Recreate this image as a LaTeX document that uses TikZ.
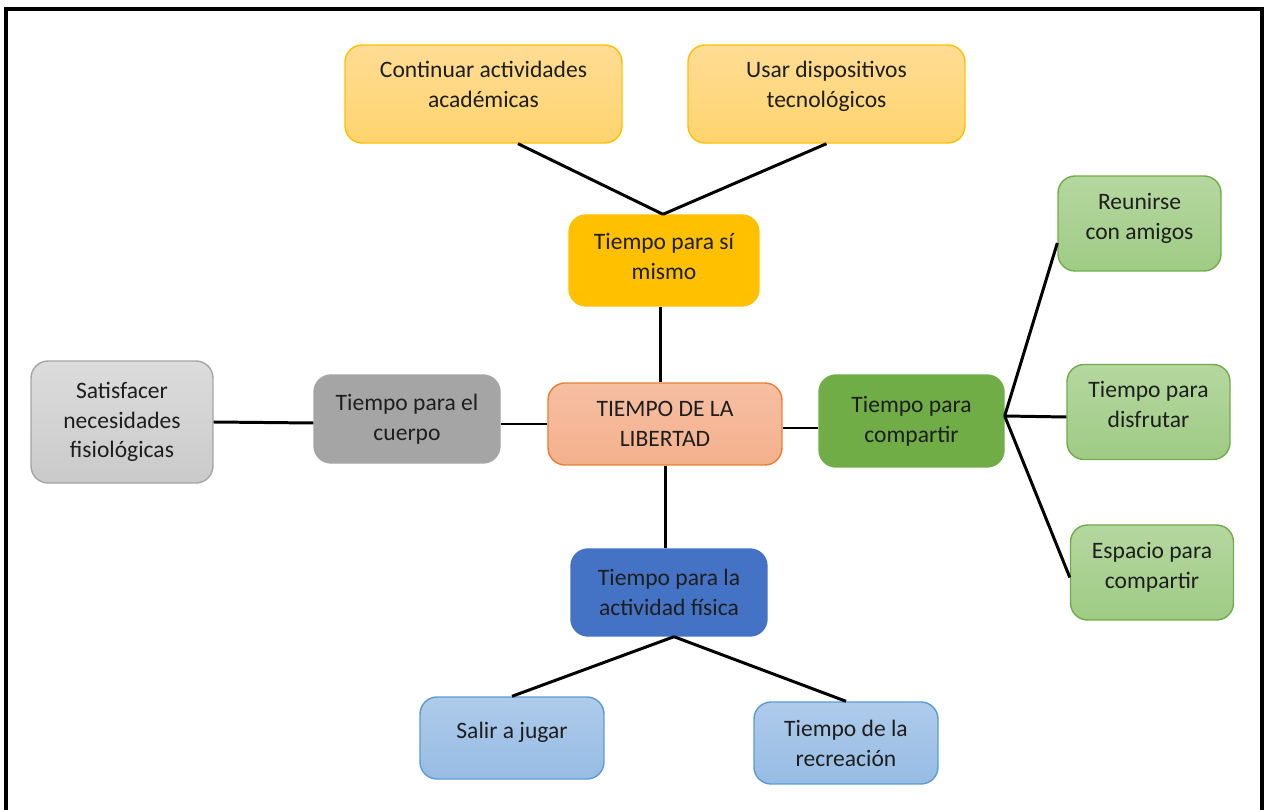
\documentclass[tikz,border=0pt]{standalone}
\usepackage{fontspec}
\setmainfont{Carlito}
\usepackage{tikz}

\definecolor{gold}{HTML}{FFC000}
\definecolor{goldlt}{HTML}{FFDC94}
\definecolor{goldmd}{HTML}{FFD46E}
\definecolor{salmon}{HTML}{F4B08C}
\definecolor{salmonlt}{HTML}{F6BFA3}
\definecolor{orangeb}{HTML}{ED7D31}
\definecolor{greyd}{HTML}{A5A5A5}
\definecolor{greylt}{HTML}{DCDCDC}
\definecolor{greymd}{HTML}{CACACA}
\definecolor{greenm}{HTML}{70AD47}
\definecolor{greenlt}{HTML}{B5D7A0}
\definecolor{greenmd}{HTML}{9FCB84}
\definecolor{bluem}{HTML}{4472C4}
\definecolor{bluelt}{HTML}{AECBEA}
\definecolor{bluemd}{HTML}{97BCE4}
\definecolor{blueb}{HTML}{5B9BD5}
\definecolor{ink}{HTML}{1E1E1E}

\begin{document}
\begin{tikzpicture}[x=0.02cm,y=-0.02cm,
    box/.style={rounded corners=0.34cm,align=center,text=ink,
        font=\fontsize{13.4}{17}\selectfont,inner sep=2pt,line width=0.8pt},
    topbox/.style={box,draw=gold,top color=goldlt,bottom color=goldmd,
        minimum width=5.54cm,minimum height=1.96cm,text depth=0.4cm},
    leafg/.style={box,draw=greenm,top color=greenlt,bottom color=greenmd,
        minimum width=3.26cm,minimum height=1.9cm,text depth=0.3cm},
    leafb/.style={box,draw=blueb,top color=bluelt,bottom color=bluemd,
        minimum width=3.68cm,minimum height=1.64cm,text depth=0.3cm},
    link/.style={line width=1.7pt,black}]
    \clip (0,0) rectangle (1264,810);
    \useasboundingbox (0,0) rectangle (1264,810);
    \draw[line width=2.2pt] (6,830) -- (6,9) -- (1262,9) -- (1262,830);

    \node[box,fill=salmon,top color=salmonlt,bottom color=salmon,draw=orangeb,
        minimum width=4.68cm,minimum height=1.64cm] (lib) at (665,424) {TIEMPO DE LA\\LIBERTAD};

    \node[box,fill=gold,draw=gold,minimum width=3.8cm,minimum height=1.82cm,
        text depth=0.15cm] (sim) at (664,260.5) {Tiempo para sí\\mismo};
    \node[topbox] (cont) at (483.5,94) {Continuar actividades\\académicas};
    \node[topbox] (usar) at (826.5,94) {Usar dispositivos\\tecnológicos};

    \node[box,fill=greyd,draw=greyd,minimum width=3.72cm,minimum height=1.76cm] (cue) at (407,419) {Tiempo para el\\cuerpo};
    \node[box,draw=greyd,top color=greylt,bottom color=greymd,
        minimum width=3.64cm,minimum height=2.44cm] (sat) at (122,422) {Satisfacer\\necesidades\\fisiológicas};

    \node[box,fill=greenm,draw=greenm,minimum width=3.7cm,minimum height=1.84cm] (comp) at (911.5,421) {Tiempo para\\compartir};
    \node[leafg] (reun) at (1139.5,223.5) {Reunirse\\con amigos};
    \node[leafg] (disf) at (1148.5,412) {Tiempo para\\disfrutar};
    \node[leafg] (esp) at (1152,572.5) {Espacio para\\compartir};

    \node[box,fill=bluem,draw=bluem,minimum width=3.92cm,minimum height=1.74cm] (act) at (669,592.5) {Tiempo para la\\actividad física};
    \node[leafb] (sal) at (512,738) {Salir a jugar};
    \node[leafb,text depth=0pt] (rec) at (846,743) {Tiempo de la\\recreación};

    \draw[link] ([xshift=0.69cm]cont.south) -- ([xshift=-0.02cm]sim.north);
    \draw[link] (usar.south) -- ([xshift=-0.02cm]sim.north);
    \draw[link] ([xshift=-0.08cm]sim.south) -- ([xshift=-0.08cm]sim.south |- lib.north);
    \draw[link] (lib.west) -- (lib.west -| cue.east);
    \draw[link] ([yshift=-0.08cm]cue.west) -- (sat.east);
    \draw[link] ([yshift=-0.08cm]lib.east) -- ([yshift=-0.08cm]lib.east -| comp.west);
    \draw[link] ([yshift=0.1cm]comp.east) -- ([yshift=-0.39cm]reun.west);
    \draw[link] ([yshift=0.1cm]comp.east) -- ([yshift=-0.1cm]disf.west);
    \draw[link] ([yshift=0.1cm]comp.east) -- ([yshift=-0.1cm]esp.west);
    \draw[link] (lib.south) -- (lib.south |- act.north);
    \draw[link] ([xshift=0.1cm]act.south) -- (sal.north);
    \draw[link] ([xshift=0.1cm]act.south) -- (rec.north);
\end{tikzpicture}
\end{document}
